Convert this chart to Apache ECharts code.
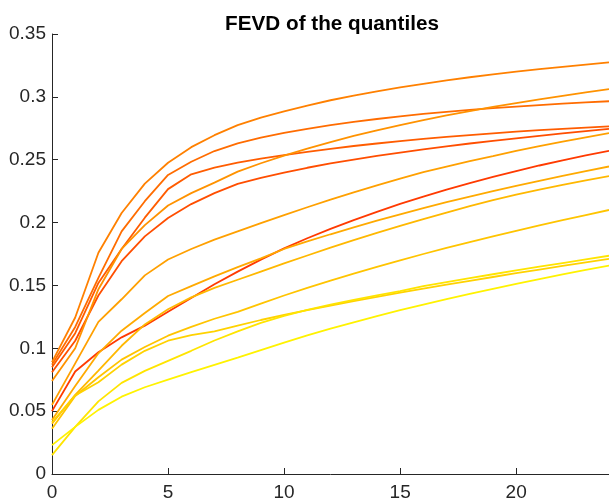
<!DOCTYPE html>
<html>
<head>
<meta charset="utf-8">
<script src="https://cdn.jsdelivr.net/npm/echarts@6/dist/echarts.min.js"></script>
<style>
  html, body { margin: 0; padding: 0; background: #ffffff; }
  #chart { width: 609px; height: 502px; }
</style>
</head>
<body>
<div id="chart"></div>
<script>
// Forecast horizons 0..24
const horizons = Array.from({ length: 25 }, (_, i) => i);

// FEVD paths, one per quantile
const q01 = [0.050, 0.0815, 0.0968, 0.1087, 0.118, 0.129, 0.140, 0.151, 0.161, 0.1705, 0.1795, 0.1875, 0.195, 0.202, 0.2085, 0.2148, 0.2207, 0.2262, 0.2314, 0.2363, 0.241, 0.2454, 0.2495, 0.2534, 0.2571];
const q02 = [0.081, 0.106, 0.142, 0.1693, 0.189, 0.2036, 0.2147, 0.2234, 0.2308, 0.2355, 0.2398, 0.2436, 0.247, 0.2501, 0.253, 0.2557, 0.2582, 0.2606, 0.2629, 0.265, 0.267, 0.269, 0.2709, 0.2727, 0.2745];
const q03 = [0.085, 0.112, 0.152, 0.179, 0.2039, 0.2266, 0.2384, 0.2437, 0.2476, 0.2508, 0.2537, 0.2563, 0.2587, 0.2609, 0.2629, 0.2648, 0.2665, 0.2681, 0.2696, 0.271, 0.2723, 0.2735, 0.2746, 0.2756, 0.2765];
const q04 = [0.087, 0.117, 0.156, 0.193, 0.217, 0.2379, 0.2484, 0.2569, 0.263, 0.2675, 0.2713, 0.2746, 0.2775, 0.2801, 0.2824, 0.2845, 0.2864, 0.2881, 0.2896, 0.291, 0.2923, 0.2935, 0.2946, 0.2956, 0.2965];
const q05 = [0.089, 0.1245, 0.176, 0.2076, 0.231, 0.2476, 0.260, 0.2695, 0.2775, 0.2835, 0.2885, 0.2931, 0.2973, 0.301, 0.3044, 0.3075, 0.3104, 0.3131, 0.3156, 0.3179, 0.320, 0.322, 0.3239, 0.3257, 0.3274];
const q06 = [0.074, 0.100, 0.147, 0.179, 0.198, 0.2136, 0.2234, 0.2318, 0.2405, 0.2472, 0.2532, 0.2588, 0.264, 0.2689, 0.2734, 0.2776, 0.2815, 0.2852, 0.2887, 0.292, 0.2951, 0.298, 0.3008, 0.3035, 0.3061];
const q07 = [0.055, 0.088, 0.121, 0.139, 0.158, 0.1706, 0.179, 0.1865, 0.193, 0.1995, 0.206, 0.2122, 0.2182, 0.224, 0.2296, 0.235, 0.2402, 0.2446, 0.2488, 0.2528, 0.257, 0.2608, 0.2644, 0.2678, 0.2712];
const q08 = [0.043, 0.070, 0.096, 0.114, 0.128, 0.1416, 0.1495, 0.1572, 0.1645, 0.1715, 0.179, 0.185, 0.1907, 0.1962, 0.2015, 0.2066, 0.2115, 0.2162, 0.2207, 0.225, 0.2292, 0.2332, 0.2371, 0.2409, 0.2446];
const q09 = [0.040, 0.063, 0.0823, 0.102, 0.119, 0.131, 0.1405, 0.148, 0.1545, 0.161, 0.1675, 0.1738, 0.180, 0.186, 0.1918, 0.1974, 0.2028, 0.208, 0.213, 0.2178, 0.2222, 0.2262, 0.230, 0.2336, 0.237];
const q10 = [0.036, 0.062, 0.077, 0.091, 0.101, 0.110, 0.117, 0.1235, 0.129, 0.1355, 0.142, 0.148, 0.1538, 0.1594, 0.1648, 0.170, 0.175, 0.1798, 0.1845, 0.189, 0.1934, 0.1977, 0.2019, 0.206, 0.210];
const q11 = [0.041, 0.0625, 0.073, 0.087, 0.098, 0.106, 0.1105, 0.1135, 0.118, 0.1225, 0.1265, 0.1303, 0.134, 0.1375, 0.1409, 0.1442, 0.1474, 0.1506, 0.1537, 0.1567, 0.1597, 0.1626, 0.1655, 0.1683, 0.1711];
const q12 = [0.015, 0.0375, 0.0578, 0.0725, 0.082, 0.090, 0.098, 0.1062, 0.1135, 0.1202, 0.1258, 0.1305, 0.1347, 0.1385, 0.1421, 0.1455, 0.1495, 0.1527, 0.1558, 0.1589, 0.1619, 0.1649, 0.1678, 0.1707, 0.1736];
const q13 = [0.023, 0.0375, 0.051, 0.0615, 0.069, 0.075, 0.081, 0.0868, 0.0925, 0.0985, 0.1045, 0.1102, 0.1156, 0.1207, 0.1256, 0.1303, 0.1348, 0.1391, 0.1433, 0.1473, 0.1512, 0.155, 0.1587, 0.1623, 0.1658];

const paths = [q01, q02, q03, q04, q05, q06, q07, q08, q09, q10, q11, q12, q13];

// Autumn-style palette, red-orange through yellow
const colors = ['#ff3a00', '#ff4e00', '#ff5c00', '#ff6c00', '#ff8000', '#ff9200', '#ffa000', '#ffaa00', '#ffb800', '#ffc400', '#ffd200', '#ffe400', '#fff200'];

const xTicks = [0, 5, 10, 15, 20];
const yTicks = [0, 0.05, 0.1, 0.15, 0.2, 0.25, 0.3, 0.35];

const axisColor = '#262626';
const font = '"Liberation Sans", Arial, Helvetica, sans-serif';

const chart = echarts.init(document.getElementById('chart'), null, { renderer: 'canvas' });

chart.setOption({
  animation: false,
  backgroundColor: '#ffffff',
  title: {
    text: 'FEVD of the quantiles',
    left: 327,
    top: 9,
    textAlign: 'center',
    textStyle: { fontFamily: font, fontSize: 20.7, fontWeight: 'bold', color: '#000000' }
  },
  grid: { left: 52, top: 34, width: 560, height: 442, containLabel: false },
  xAxis: {
    type: 'value',
    min: 0,
    max: 24,
    interval: 5,
    axisLine: { show: true, lineStyle: { color: axisColor, width: 1 } },
    axisTick: { show: true, inside: true, length: 6, lineStyle: { color: axisColor } },
    axisLabel: {
      color: axisColor, fontFamily: font, fontSize: 19, margin: 9,
      showMaxLabel: false,
      formatter: v => (xTicks.includes(v) ? String(v) : '')
    },
    splitLine: { show: false }
  },
  yAxis: {
    type: 'value',
    min: 0,
    max: 0.35,
    interval: 0.05,
    axisLine: { show: true, lineStyle: { color: axisColor, width: 1 } },
    axisTick: { show: true, inside: true, length: 6, lineStyle: { color: axisColor } },
    axisLabel: {
      color: axisColor, fontFamily: font, fontSize: 19, margin: 6,
      formatter: v => {
        const t = yTicks.find(y => Math.abs(y - v) < 1e-9);
        return t === undefined ? '' : String(+t.toFixed(2));
      }
    },
    splitLine: { show: false }
  },
  series: paths.map((vals, i) => ({
    type: 'line',
    data: horizons.map((h, j) => [h, vals[j]]),
    showSymbol: false,
    smooth: false,
    lineStyle: { color: colors[i], width: 1.8 },
    itemStyle: { color: colors[i] },
    emphasis: { disabled: true },
    z: 2
  }))
});
</script>
</body>
</html>
